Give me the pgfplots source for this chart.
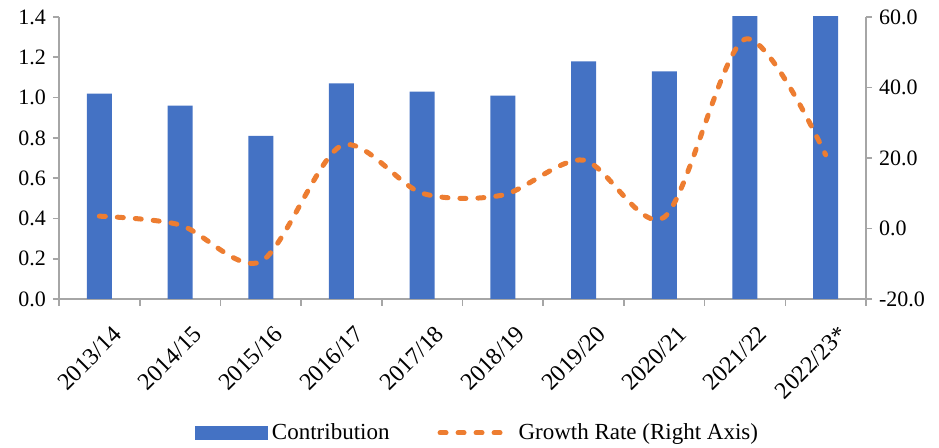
\documentclass[border=0pt]{standalone}
\usepackage{fontspec}
\setmainfont{Liberation Serif}
\usepackage{pgfplots}
\pgfplotsset{compat=1.18}
\definecolor{barblue}{HTML}{4472C4}
\definecolor{lineorange}{HTML}{ED7D31}
\definecolor{axgray}{HTML}{A6A6A6}
\begin{document}
\begin{tikzpicture}
\pgfplotsset{every axis/.append style={
  scale only axis, width=403.5pt, height=141pt,
  xmin=-0.5, xmax=9.5,
  tick align=outside,
  axis line style={axgray, line width=0.8pt},
  every tick/.style={axgray, line width=0.8pt},
  major tick length=3pt,
  /pgf/number format/assume math mode=true,
  tick label style={font=\fontsize{11}{13}\selectfont},
}}
\begin{axis}[
  at={(0,0)}, anchor=south west,
  axis x line*=bottom, axis y line*=left,
  ymin=0, ymax=1.4,
  ytick={0,0.2,0.4,0.6,0.8,1.0,1.2,1.4},
  yticklabel style={/pgf/number format/.cd, fixed, fixed zerofill, precision=1},
  xtick={0,1,2,3,4,5,6,7,8,9},
  xticklabels={2013/14,2014/15,2015/16,2016/17,2017/18,2018/19,2019/20,2020/21,2021/22,2022/23*},
  x tick label style={rotate=45, anchor=north east, inner sep=1pt, xshift=-1.5pt, yshift=-10pt, font=\fontsize{12}{14}\selectfont},
  major x tick style={draw=none},
  minor xtick={-0.5,0.5,1.5,2.5,3.5,4.5,5.5,6.5,7.5,8.5,9.5},
  minor tick length=3.5pt,
  every minor tick/.style={axgray, line width=0.8pt},
]
\addplot[ybar, bar width=12.5pt, fill=barblue, draw=none] coordinates {
  (0,1.02) (1,0.96) (2,0.81) (3,1.07) (4,1.03) (5,1.01) (6,1.18) (7,1.13) (8,1.55) (9,1.50)
};
\end{axis}
\begin{axis}[
  at={(0,0)}, anchor=south west,
  axis x line=none, axis y line*=right,
  ymin=-20, ymax=60,
  ytick={-20,0,20,40,60},
  yticklabel style={/pgf/number format/.cd, fixed, fixed zerofill, precision=1},
  legend style={at={(0.52,-0.475)}, anchor=center, draw=none, fill=none,
    legend columns=2, font=\fontsize{11.5}{13}\selectfont,
    /tikz/every even column/.append style={column sep=22pt},
    nodes={inner sep=2pt}},
  legend cell align=left,
]
\addlegendimage{legend image code/.code={\fill[barblue] (0pt,-3.25pt) rectangle (36pt,3.25pt);}}
\addlegendentry{Contribution}
\addplot[lineorange, line width=2.5pt, dash pattern=on 3pt off 6pt, line cap=round, smooth,
  legend image code/.code={\draw[lineorange, line width=2.5pt, dash pattern=on 3pt off 6pt, line cap=round] (1pt,0pt) -- (37pt,0pt);}]
  coordinates {
  (0,3.5) (1,1.0) (2,-9.4) (3,23.5) (4,10.0) (5,9.5) (6,19.4) (7,3.2) (8,53.7) (9,20.9)
};
\addlegendentry{Growth Rate (Right Axis)}
\end{axis}
\pgfresetboundingbox
\path[use as bounding box] (-29.5pt,-74.5pt) rectangle (440pt,149.5pt);
\end{tikzpicture}
\end{document}
